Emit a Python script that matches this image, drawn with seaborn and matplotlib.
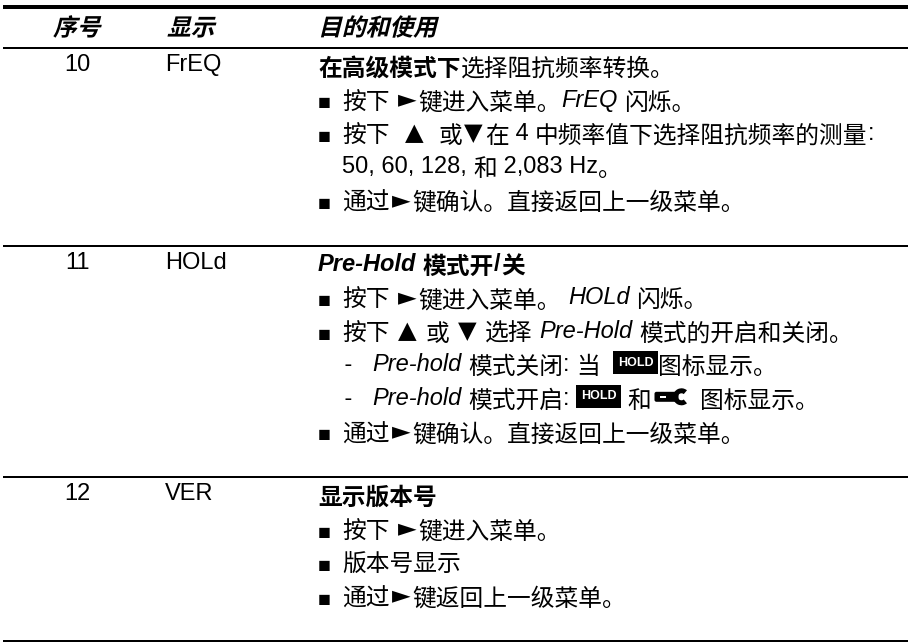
import re
import pandas as pd
import matplotlib
matplotlib.use("Agg")
import matplotlib.pyplot as plt
import matplotlib.patches as mpatches
from matplotlib.patheffects import AbstractPathEffect
from matplotlib.transforms import Affine2D
import seaborn as sns

## table content: * toggles italic, # toggles bold, [H] and [W] are the lcd icons
## a tab jumps to the text column after the bullet
header = ["#*序号*#", "#*显示*#", "#*目的和使用*#"]
numbers = ["10", "11", "12"]
displays = ["FrEQ", "HOLd", "VER"]
row_10 = [
    "#在高级模式下#选择阻抗频率转换。",
    "■\t按下 ►键进入菜单。*FrEQ* 闪烁。",
    "■\t按下  ▲  或▼在 4 中频率值下选择阻抗频率的测量:",
    "\t50, 60, 128, 和 2,083 Hz。",
    "■\t通过►键确认。直接返回上一级菜单。",
]
row_11 = [
    "#*Pre-Hold* 模式开/关#",
    "■\t按下 ►键进入菜单。 *HOLd* 闪烁。",
    "■\t按下 ▲ 或 ▼ 选择 *Pre-Hold* 模式的开启和关闭。",
    "    -   *Pre-hold* 模式关闭: 当  [H]图标显示。",
    "    -   *Pre-hold* 模式开启: [H] 和[W] 图标显示。",
    "■\t通过►键确认。直接返回上一级菜单。",
]
row_12 = [
    "#显示版本号#",
    "■\t按下 ►键进入菜单。",
    "■\t版本号显示",
    "■\t通过►键返回上一级菜单。",
]
rows = [row_10, row_11, row_12]

CJK = ["Noto Sans CJK SC", "DejaVu Sans"]
LATIN = ["Liberation Sans", "DejaVu Sans"]
CJK_SIZE = 17.1
LATIN_SIZE = 17
LINE_STEP = 33.5
TEXT_X = 318


class Skew(AbstractPathEffect):
    # the cjk fonts have no italic, so slant the outlines
    def draw_path(self, renderer, gc, tpath, affine, rgbFace=None):
        slanted = Affine2D().skew_deg(14, 0) + affine
        renderer.draw_path(gc, tpath, slanted, rgbFace)


def style_of(chunk, bold, italic):
    kw = {"color": "black", "va": "baseline", "ha": "left",
          "weight": "bold" if bold else "normal"}
    drop = 0
    if chunk[0] == "■":
        kw.update(family=LATIN, fontsize=15.4)
        drop = 3
    elif chunk[0] in "►▲▼":
        kw.update(family=["DejaVu Sans"], fontsize=17.5)
    elif ord(chunk[0]) >= 0x2E80:
        kw.update(family=CJK, fontsize=CJK_SIZE)
        drop = 3
        if italic:
            kw["path_effects"] = [Skew()]
    else:
        kw.update(family=LATIN, fontsize=LATIN_SIZE, style="italic" if italic else "normal")
    return kw, drop


def text_width(chunk, kw):
    # bars around the text so that spaces count too
    plain = {k: v for k, v in kw.items() if k != "path_effects"}
    full = ax.text(0, 0, "|" + chunk + "|", **plain)
    bare = ax.text(0, 0, "||", **plain)
    w = full.get_window_extent(renderer).width - bare.get_window_extent(renderer).width
    full.remove()
    bare.remove()
    return w


def draw_hold(x, base):
    ax.add_patch(mpatches.Rectangle((x, base - 20), 45, 23, color="black", lw=0))
    ax.text(x + 22.5, base - 8.5, "HOLD", color="white", family=LATIN, fontsize=9, weight="bold",
            ha="center", va="center")
    return 45


def draw_wrench(x, base):
    ax.add_patch(mpatches.FancyBboxPatch((x + 5, base - 11), 20, 6, boxstyle="round,pad=2",
                                         color="black", lw=0))
    ax.add_patch(mpatches.Rectangle((x + 8, base - 9), 6, 2, color="white", lw=0))
    ax.add_patch(mpatches.Wedge((x + 30, base - 8), 8.5, 50, 310, width=5, color="black", lw=0))
    return 42


def draw_line(markup, x, base):
    bold = italic = False
    for part in re.split(r"(\[H\]|\[W\]|\*|#|\t)", markup):
        if part == "*":
            italic = not italic
        elif part == "#":
            bold = not bold
        elif part == "\t":
            x = TEXT_X + 24
        elif part == "[H]":
            x += draw_hold(x, base)
        elif part == "[W]":
            x += draw_wrench(x, base)
        elif part:
            # split in runs of cjk, symbols and latin
            for chunk in re.findall(r"■|[►▲▼]|[\u2e80-\uffff]+|[^■►▲▼\u2e80-\uffff]+", part):
                kw, drop = style_of(chunk, bold, italic)
                # the arrows sit in a wider cell than the dejavu glyphs
                pad = 2 if chunk[0] in "►▲▼" else 0
                ax.text(x + pad, base + drop, chunk, **kw)
                x += text_width(chunk, kw) + 2 * pad


sns.set_theme(style="white")
fig = plt.figure(figsize=(9.08, 6.42), dpi=100)
ax = fig.add_axes([0, 0, 1, 1])
renderer = fig.canvas.get_renderer()

## rules follow from the number of text lines in each row
rule_y = [7, 48]
for r in rows:
    rule_y.append(rule_y[-1] + len(r) * LINE_STEP + 30.3)
rule_px = [4, 2, 2, 2, 2]
for y, px in zip(rule_y, rule_px):
    rule = pd.DataFrame({"x": [3, 908], "y": [y, y]})
    sns.lineplot(data=rule, x="x", y="y", color="black", linewidth=px * 0.72,
                 estimator=None, solid_capstyle="butt", ax=ax)

ax.set_xlim(0, 908)
ax.set_ylim(642, 0)
ax.axis("off")

draw_line(header[0], 53, 32.5)
draw_line(header[1], 167, 32.5)
draw_line(header[2], 318, 32.5)

for i, r in enumerate(rows):
    base = rule_y[i + 1] + 23
    ax.text(77.5, base, numbers[i], family=LATIN, fontsize=LATIN_SIZE, color="black",
            ha="center", va="baseline")
    ax.text(165, base, displays[i], family=LATIN, fontsize=LATIN_SIZE, color="black",
            ha="left", va="baseline")
    for j, line in enumerate(r):
        draw_line(line, TEXT_X, base + 2 + j * LINE_STEP)

fig.savefig("out.png", dpi=100)
